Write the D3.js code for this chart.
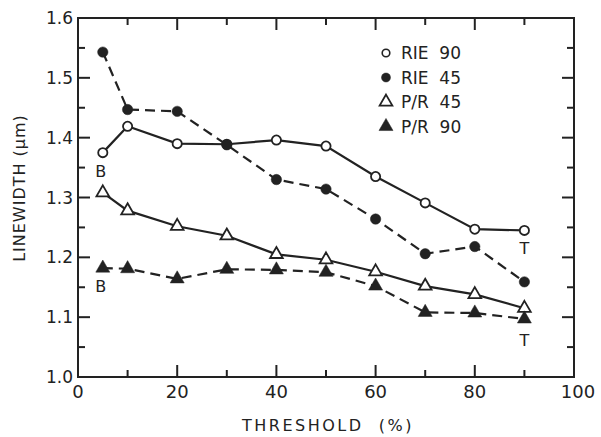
<!DOCTYPE html>
<html>
<head>
<meta charset="utf-8">
<script src="https://cdn.jsdelivr.net/npm/d3@7"></script>
<style>
  body { margin: 0; background: #fff; }
  text { font-family: "DejaVu Sans", sans-serif; fill: #222; }
</style>
</head>
<body>
<div id="chart"></div>
<script>
// data
const thresholds = [5, 10, 20, 30, 40, 50, 60, 70, 80, 90];
const rie90 = [1.375, 1.419, 1.390, 1.389, 1.396, 1.386, 1.335, 1.291, 1.247, 1.245];
const rie45 = [1.543, 1.447, 1.444, 1.388, 1.330, 1.314, 1.264, 1.206, 1.218, 1.159];
const pr45  = [1.308, 1.278, 1.252, 1.236, 1.205, 1.196, 1.176, 1.152, 1.138, 1.115];
const pr90  = [1.182, 1.181, 1.164, 1.180, 1.179, 1.175, 1.152, 1.108, 1.107, 1.097];
const seriesNames = ["RIE  90", "RIE  45", "P/R  45", "P/R  90"];
const xTicks = [0, 20, 40, 60, 80, 100];
const yTicks = [1.0, 1.1, 1.2, 1.3, 1.4, 1.5, 1.6];
const annotations = [
    {x: 5, y: 1.375, label: "B", dy: 24},
    {x: 5, y: 1.182, label: "B", dy: 24},
    {x: 90, y: 1.245, label: "T", dy: 24},
    {x: 90, y: 1.097, label: "T", dy: 27}
];

const width = 601, height = 437;
const margin = {top: 18, right: 27, bottom: 60, left: 78};
const ink = "#222";

const x = d3.scaleLinear([0, 100], [margin.left, width - margin.right]);
const y = d3.scaleLinear([1.0, 1.6], [height - margin.bottom, margin.top]);

const svg = d3.select("#chart")
    .append("svg")
    .attr("width", width)
    .attr("height", height)
    .attr("viewBox", [0, 0, width, height]);

const series = [
    {name: seriesNames[0], values: rie90, shape: "circle", filled: false, dashed: false},
    {name: seriesNames[1], values: rie45, shape: "circle", filled: true, dashed: true},
    {name: seriesNames[2], values: pr45, shape: "triangle", filled: false, dashed: false},
    {name: seriesNames[3], values: pr90, shape: "triangle", filled: true, dashed: true}
];

// frame
svg.append("rect")
    .attr("x", x(0)).attr("y", y(1.6))
    .attr("width", x(100) - x(0)).attr("height", y(1.0) - y(1.6))
    .attr("fill", "none").attr("stroke", ink).attr("stroke-width", 2);

// inward ticks on all four sides
const xMinor = d3.range(10, 100, 10);
const yMinor = d3.range(1.05, 1.6, 0.05);
const tickLen = v => (Math.round(v * 1000) % 100 === 0 ? 12 : 7);
const g = svg.append("g").attr("stroke", ink).attr("stroke-width", 2);
xMinor.forEach(v => {
    const len = v % 20 === 0 ? 12 : 7;
    g.append("line").attr("x1", x(v)).attr("x2", x(v)).attr("y1", y(1.0)).attr("y2", y(1.0) - len);
    g.append("line").attr("x1", x(v)).attr("x2", x(v)).attr("y1", y(1.6)).attr("y2", y(1.6) + len);
});
yMinor.forEach(v => {
    const len = tickLen(v);
    g.append("line").attr("x1", x(0)).attr("x2", x(0) + len).attr("y1", y(v)).attr("y2", y(v));
    g.append("line").attr("x1", x(100)).attr("x2", x(100) - len).attr("y1", y(v)).attr("y2", y(v));
});

// tick labels
svg.append("g")
    .style("font-size", "17px")
    .attr("text-anchor", "end")
    .selectAll("text")
    .data(yTicks)
    .join("text")
        .attr("x", x(0) - 5)
        .attr("y", d => y(d) + 6)
        .text(d => d.toFixed(1));

svg.append("g")
    .style("font-size", "18px")
    .attr("text-anchor", "middle")
    .selectAll("text")
    .data(xTicks)
    .join("text")
        .attr("x", d => x(d) + (d === 100 ? 4 : 0))
        .attr("y", y(1.0) + 21)
        .text(d => d);

// axis titles
svg.append("text")
    .attr("x", (x(0) + x(100)) / 2 + 2)
    .attr("y", 431)
    .attr("text-anchor", "middle")
    .style("font-size", "16px")
    .style("white-space", "pre")
    .style("letter-spacing", "2.5px")
    .text("THRESHOLD  (%)");

svg.append("text")
    .attr("transform", `translate(25,188) rotate(-90)`)
    .attr("text-anchor", "middle")
    .style("font-size", "16px")
    .style("letter-spacing", "1px")
    .text("LINEWIDTH (\u03bcm)");

// lines
const line = d3.line()
    .x((d, i) => x(thresholds[i]))
    .y(d => y(d));

svg.append("g")
    .attr("fill", "none")
    .attr("stroke", ink)
    .attr("stroke-width", 2.2)
    .selectAll("path")
    .data(series)
    .join("path")
        .attr("stroke-dasharray", d => d.dashed ? "10,6" : null)
        .attr("d", d => line(d.values));

// markers
function drawMarker(sel, s) {
    if (s.shape === "circle") {
        sel.append("circle")
            .attr("r", s.filled ? 5.2 : 4.6)
            .attr("fill", s.filled ? ink : "#fff")
            .attr("stroke", ink)
            .attr("stroke-width", s.filled ? 0.5 : 1.8);
    } else {
        sel.append("path")
            .attr("d", d3.symbol(d3.symbolTriangle, s.filled ? 85 : 70)())
            .attr("fill", s.filled ? ink : "#fff")
            .attr("stroke", ink)
            .attr("stroke-width", s.filled ? 0.5 : 1.8);
    }
}

series.forEach(s => {
    svg.append("g")
        .selectAll("g")
        .data(s.values)
        .join("g")
            .attr("transform", (d, i) => `translate(${x(thresholds[i])},${y(d)})`)
            .each(function() { drawMarker(d3.select(this), s); });
});

// B / T notes
svg.append("g")
    .style("font-size", "16px")
    .attr("text-anchor", "middle")
    .selectAll("text")
    .data(annotations)
    .join("text")
        .attr("x", d => x(d.x) - (d.label === "B" ? 2 : 0))
        .attr("y", d => y(d.y) + d.dy)
        .text(d => d.label);

// legend
const legend = svg.append("g")
    .selectAll("g")
    .data(series)
    .join("g")
        .attr("transform", (d, i) => `translate(386,${53 + i * 24.5})`);
legend.each(function(s) {
    const lg = d3.select(this);
    if (s.shape === "circle") {
        lg.append("circle")
            .attr("r", s.filled ? 4.5 : 3.8)
            .attr("fill", s.filled ? ink : "#fff")
            .attr("stroke", ink)
            .attr("stroke-width", s.filled ? 0.5 : 1.6);
    } else {
        lg.append("path")
            .attr("d", d3.symbol(d3.symbolTriangle, s.filled ? 85 : 70)())
            .attr("fill", s.filled ? ink : "#fff")
            .attr("stroke", ink)
            .attr("stroke-width", s.filled ? 0.5 : 1.8);
    }
    lg.append("text")
        .attr("x", 15)
        .attr("y", 6)
        .style("font-size", "17px")
        .style("white-space", "pre")
        .text(s.name);
});
</script>
</body>
</html>
